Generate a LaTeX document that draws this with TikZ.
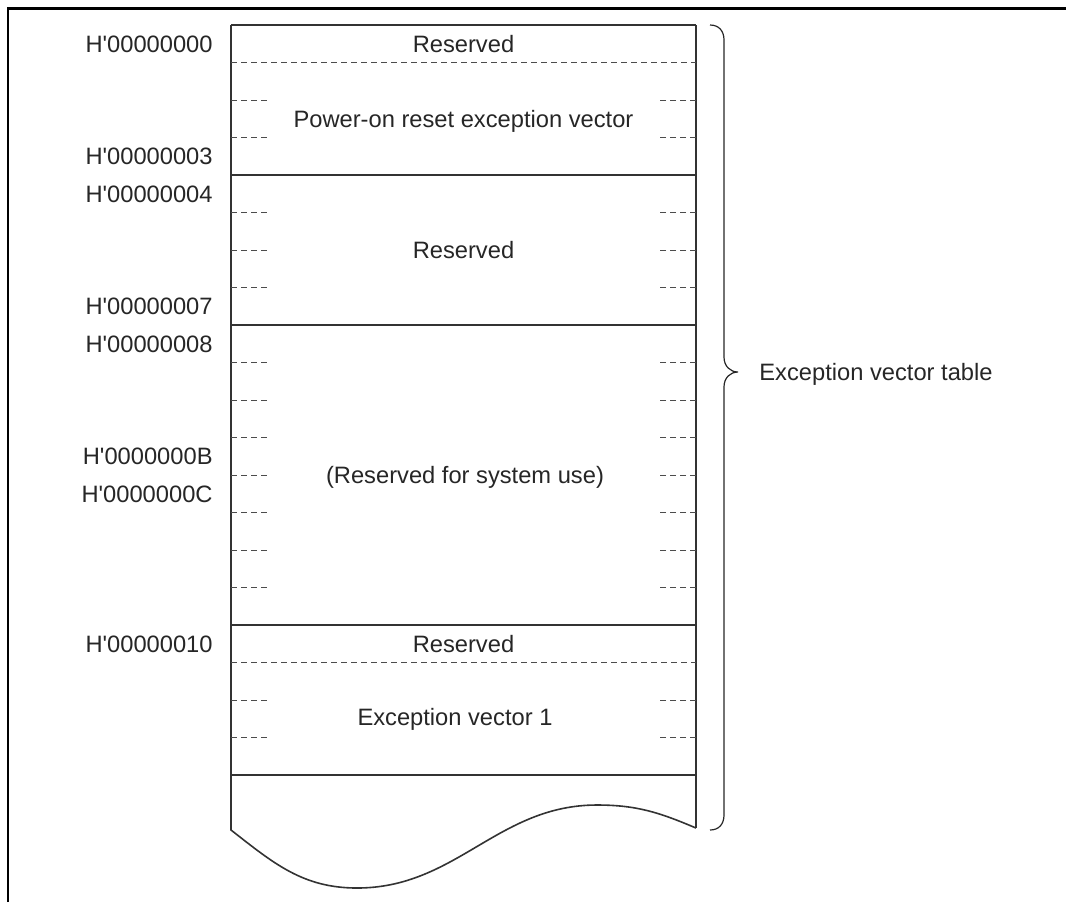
\documentclass[tikz,border=0pt]{standalone}
\usepackage{fontspec}
\setmainfont{Liberation Sans}
\newcommand{\hq}{H\textquotesingle}
\begin{document}
\begin{tikzpicture}[x=0.5pt,y=-0.5pt,
  solidl/.style={draw=black!80, line width=0.8pt},
  bracel/.style={draw=black!85, line width=0.6pt},
  dashl/.style={draw=black!70, line width=0.5pt, dash pattern=on 3pt off 2pt},
  framel/.style={draw=black, line width=1.25pt},
  txt/.style={text=black!85, font=\fontsize{11.85}{14}\selectfont, inner sep=0pt, text height=8.5pt, text depth=0pt},
  lbl/.style={txt, anchor=east}]
\useasboundingbox (0,0) rectangle (1066,902);
% outer frame
\draw[framel] (8,902) -- (8,8.5) -- (1066,8.5);
% memory box
\draw[solidl] (231,25) -- (696,25);
\draw[solidl] (696,25) -- (696,828);
\draw[solidl] (231,25) -- (231,830) to[out=-38,in=180] (357,888) to[out=0,in=180] (597,805) to[out=0,in=157] (696,828);
\foreach \y in {175,325,625,775} \draw[solidl] (231,\y) -- (696,\y);
% full dashed lines
\foreach \y in {62.5,662.5} \draw[dashl] (231,\y) -- (696,\y);
% short dashed marks
\foreach \y in {100,137.5,212.5,250,287.5,362.5,400,437.5,475,512.5,550,587.5,700,737.5}{
  \draw[dashl] (231,\y) -- (269,\y);
  \draw[dashl] (696,\y) -- (657,\y);
}
% texts inside
\node[txt] (r0) at (463.5,44) {Reserved};
\node[txt] (pr) at (463.5,119) {Power-on reset exception vector};
\node[txt] (r1) at (463.5,250) {Reserved};
\node[txt] (rs) at (465,475) {(Reserved for system use)};
\node[txt] (r2) at (463.5,644) {Reserved};
\node[txt] (ev) at (455,717) {Exception vector 1};
% address labels
\node[lbl] (a0) at (213,43.75) {\hq00000000};
\node[lbl] (a3) at (213,156.25) {\hq00000003};
\node[lbl] (a4) at (213,193.75) {\hq00000004};
\node[lbl] (a7) at (213,306.25) {\hq00000007};
\node[lbl] (a8) at (213,343.75) {\hq00000008};
\node[lbl] (aB) at (213,456.25) {\hq0000000B};
\node[lbl] (aC) at (213,493.75) {\hq0000000C};
\node[lbl] (a10) at (213,643.75) {\hq00000010};
% brace
\draw[bracel] (710,25) .. controls (719,25) and (724,31) .. (724,40) -- (724,357)
  .. controls (724,366) and (730,372) .. (738,372)
  .. controls (730,372) and (724,378) .. (724,387) -- (724,815)
  .. controls (724,824) and (719,830) .. (710,830);
\node[txt, anchor=west] (evt) at (759,372) {Exception vector table};
\end{tikzpicture}
\end{document}
